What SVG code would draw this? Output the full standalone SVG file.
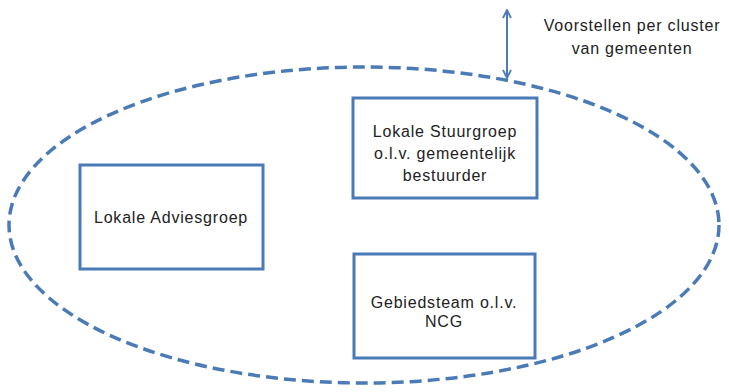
<svg xmlns="http://www.w3.org/2000/svg" width="729" height="392" viewBox="0 0 729 392">
<style>
text{font-family:"Liberation Sans",Arial,sans-serif;font-size:16px;letter-spacing:0.8px;fill:#222;text-anchor:middle}
.box{fill:#fff;stroke:#4a7bb7;stroke-width:3}
.cl{fill:none;stroke:#4a7bb7;stroke-width:3.5;stroke-dasharray:12 6}
.ar{fill:none;stroke:#4a7bb7;stroke-width:2}
</style>
<defs>
<marker id="ah" viewBox="0 0 10 10" refX="9" refY="5" markerWidth="10" markerHeight="10" markerUnits="userSpaceOnUse" orient="auto-start-reverse">
<path d="M1,1 L9,5 L1,9" fill="none" stroke="#4a7bb7" stroke-width="1.8"/>
</marker>
</defs>
<rect width="729" height="392" fill="#fff"/>
<g id="cluster">
<ellipse class="cl" cx="364" cy="225" rx="355" ry="158"/>
</g>
<g id="connectors">
<line class="ar" x1="507" y1="10" x2="507" y2="78" marker-start="url(#ah)" marker-end="url(#ah)"/>
</g>
<g id="label-voorstellen">
<text x="632" y="31">Voorstellen per cluster</text>
<text x="632" y="54">van gemeenten</text>
</g>
<g id="adviesgroep">
<rect class="box" x="80" y="165" width="183" height="104"/>
<text x="171" y="223">Lokale Adviesgroep</text>
</g>
<g id="stuurgroep">
<rect class="box" x="353" y="98" width="184" height="100"/>
<text x="445" y="137">Lokale Stuurgroep</text>
<text x="445" y="159">o.l.v. gemeentelijk</text>
<text x="445" y="181">bestuurder</text>
</g>
<g id="gebiedsteam">
<rect class="box" x="354" y="254" width="181" height="104"/>
<text x="444" y="308">Gebiedsteam o.l.v.</text>
<text x="444" y="327">NCG</text>
</g>
</svg>
